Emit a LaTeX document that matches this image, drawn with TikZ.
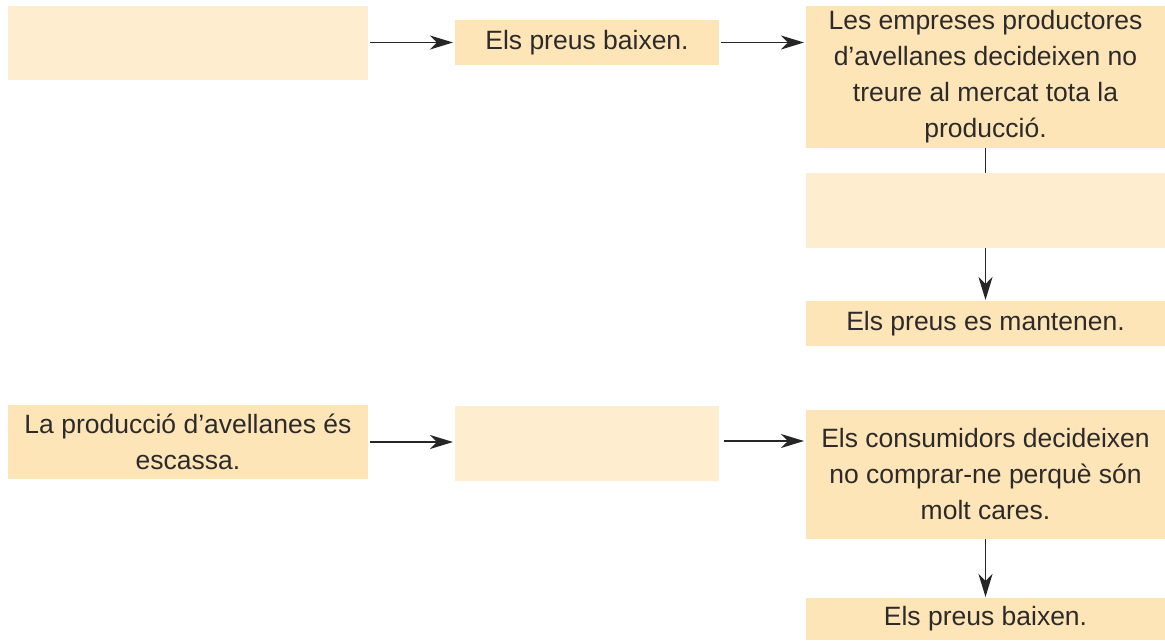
\documentclass[tikz,border=0pt]{standalone}
\usepackage{fontspec}
\setmainfont{Liberation Sans}
\usetikzlibrary{arrows.meta}
\definecolor{boxdark}{RGB}{254,229,183}
\definecolor{boxlight}{RGB}{254,238,207}
\definecolor{txt}{RGB}{45,42,42}
\begin{document}
\begin{tikzpicture}[x=1pt,y=-1pt,
  box/.style={anchor=north west, inner sep=0pt, outer sep=0pt, align=center,
    font=\fontsize{26.5}{36}\selectfont, text=txt},
  darkbox/.style={box, fill=boxdark},
  lightbox/.style={box, fill=boxlight},
  conn/.style={line width=1.8pt, draw=black!85},
  arr/.style={conn, -{Stealth[length=23pt,width=14pt,inset=7pt]}}]
\useasboundingbox (0,0) rectangle (1165,641);
% top row
\node[lightbox, minimum width=360pt, minimum height=74pt] (A) at (8,6) {};
\node[darkbox, minimum width=264pt, minimum height=45pt] (B) at (455,20) {Els preus baixen.};
\node[darkbox, minimum width=359pt, minimum height=142pt] (C) at (806,6)
  {Les empreses productores\\d’avellanes decideixen no\\treure al mercat tota la\\producció.};
\node[lightbox, minimum width=359pt, minimum height=75pt] (D) at (806,173) {};
\node[darkbox, minimum width=359pt, minimum height=45pt] (E) at (806,301) {Els preus es mantenen.};
% bottom row
\node[darkbox, minimum width=360pt, minimum height=74pt] (F) at (8,405)
  {La producció d’avellanes és\\escassa.};
\node[lightbox, minimum width=264pt, minimum height=75pt] (G) at (455,406) {};
\node[darkbox, minimum width=359pt, minimum height=129pt] (H) at (806,410)
  {Els consumidors decideixen\\no comprar-ne perquè són\\molt cares.};
\node[darkbox, minimum width=359pt, minimum height=42pt] (I) at (806,598) {Els preus baixen.};
% connectors
\draw[arr, shorten <=2pt, shorten >=2pt] (A.east |- B.west) -- (B.west);
\draw[arr, shorten <=2pt, shorten >=2pt] (B.east) -- (C.west |- B.east);
\draw[conn] (C.south) -- (D.north);
\draw[arr, shorten >=1pt] (D.south) -- (E.north);
\draw[arr, shorten <=2pt, shorten >=2pt] (F.east) -- (G.west |- F.east);
\draw[arr, shorten <=5pt, shorten >=2pt] (G.east |- 0,441) -- (H.west |- 0,441);
\draw[arr, shorten >=1pt] (H.south) -- (I.north);
\end{tikzpicture}
\end{document}
